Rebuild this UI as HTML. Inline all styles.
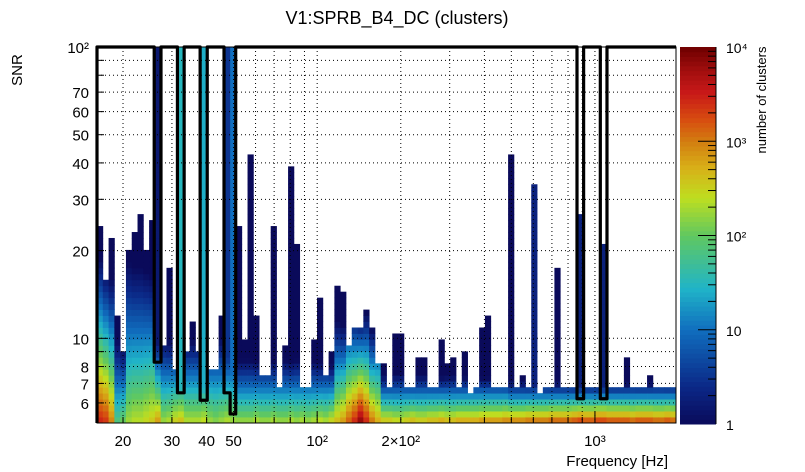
<!DOCTYPE html>
<html><head><meta charset="utf-8"><style>
html,body{margin:0;padding:0;background:#fff;}
svg{display:block;font-family:"Liberation Sans",sans-serif;}
</style></head><body>
<svg id="chart" width="805" height="472" viewBox="0 0 805 472">
<text x="397" y="24" font-size="18" text-anchor="middle">V1:SPRB_B4_DC (clusters)</text>
<text transform="translate(22,70) rotate(-90)" font-size="15" text-anchor="middle">SNR</text>
<text x="668" y="466" font-size="15" text-anchor="end">Frequency [Hz]</text>
<text transform="translate(766,100) rotate(-90)" font-size="13" text-anchor="middle">number of clusters</text>
<g id="cells"></g>
<g id="grid"></g>
<g id="axes"></g>
<g id="veto"></g>
<g id="cbar"></g>
</svg>
<script>
// ---- data ----
const topSnr = [23.6,15.8,21.3,11.8,8.75,19.5,22.4,26,19.5,24.8,
100,9.1,16.7,7.5,100,8.75,11.2,8.75,100,7.5,
7.5,11.8,100,100,23.6,9.7,42.7,11.8,7.2,7.2,
23.6,6.8,9.2,38.8,20.3,6.5,6.5,9.7,13.7,7.2,
8.75,15.1,14.4,9.2,10.6,10.6,12.4,10.6,7.9,7.9,
6.8,10.2,10.2,6.8,6.8,8.3,8.3,6.5,6.5,9.7,
7.9,8.3,6.5,8.75,6.2,6.5,10.6,11.8,6.8,6.8,
6.5,42.7,6.5,7.2,6.5,33.4,6.2,6.8,6.8,16.7,
6.5,6.5,6.8,26,6.8,6.5,6.8,20.3,6.5,6.5,
6.8,8.3,6.8,6.8,6.8,7.2,6.8,6.8,6.8,6.5];
const baseLog = [3.5,3.4,3.0,1.9,2.1,2.3,2.4,2.4,2.5,2.6,
2.9,2.3,2.4,2.6,2.7,2.4,2.4,2.4,2.5,2.3,
2.2,2.3,2.4,2.3,2.3,2.3,2.3,2.4,2.3,2.3,
2.4,2.3,2.3,2.4,2.3,2.4,2.3,2.4,2.5,2.4,
2.6,2.7,2.9,3.2,3.5,3.9,3.5,3.1,2.8,2.7,
2.7,2.6,2.6,2.7,2.8,2.7,2.7,2.8,2.8,2.9,
2.8,2.8,2.9,2.9,2.9,2.9,3.0,3.0,3.0,3.0,
3.1,3.1,3.1,3.1,3.2,3.2,3.2,3.2,3.3,3.3,
3.3,3.3,3.4,3.5,3.4,3.4,3.5,3.5,3.4,3.4,
3.4,3.4,3.3,3.4,3.4,3.4,3.3,3.3,3.4,3.3];
const decaySnr = [13,12,11,7,7,10.5,10.5,10.5,10.5,10.5,
8,7.5,7.5,7.5,7.5,7.5,7.5,7.5,7.5,7.5,
7.5,7.5,7.5,7.5,6.8,6.8,6.8,6.8,6.8,6.8,
6.8,6.8,6.8,6.8,6.8,6.8,6.8,6.8,6.8,6.8,
6.8,8.5,8.5,9.5,9.5,9.5,9.5,8.5,8.5,6.5,
6.5,6.5,6.5,6.5,6.5,6.5,6.5,6.5,6.5,6.5,
6.5,6.5,6.5,6.5,6.5,6.5,6.5,6.5,6.5,6.5,
6.5,6.4,6.4,6.4,6.4,6.4,6.4,6.4,6.4,6.4,
6.4,6.4,6.4,6.4,6.4,6.4,6.4,6.4,6.4,6.4,
6.4,6.4,6.4,6.4,6.4,6.4,6.4,6.4,6.4,6.4];
const floorCols = [10,14,18,22,23,71,75,83,87];
const floorLog = [0.2,1.5,1.4,0.5,1.0,0.0,0.3,0.3,0.3];
const vetoFreqLo = [25.9,31.4,37.9,46.2,861.8,1045.6];
const vetoFreqHi = [27.4,33.2,40.2,50.9,910.4,1105];
const vetoSnr = [8.28,6.5,6.13,6.5,6.2,6.2];
const xMajorTicks = [20,30,40,50,100,200,1000];
const xTickLabels = ["20","30","40","50","10²","2×10²","10³"];
const yTicks = [6,7,8,10,20,30,40,50,60,70,100];
const yTickLabels = ["6","7","8","10","20","30","40","50","60","70","10²"];

// ---- scales ----
const X0=97,X1=676,Y0=47,Y1=423;
const FMIN=16.12,FMAX=1958,SMIN=5.12,SMAX=100;
const xs=f=>X0+(Math.log(f/FMIN)/Math.log(FMAX/FMIN))*(X1-X0);
const ys=s=>Y1-(Math.log(s/SMIN)/Math.log(SMAX/SMIN))*(Y1-Y0);
const NS="http://www.w3.org/2000/svg";
function mk(tag,attrs,parent){const e=document.createElementNS(NS,tag);for(const k in attrs)e.setAttribute(k,attrs[k]);parent.appendChild(e);return e;}

const stops=[[0,[10,10,90]],[0.1,[11,40,135]],[0.25,[16,110,190]],[0.36,[32,180,200]],[0.5,[96,200,96]],[0.6,[190,222,32]],[0.68,[216,176,24]],[0.75,[210,125,16]],[0.81,[215,75,16]],[0.88,[200,24,24]],[0.94,[160,14,14]],[1,[110,0,0]]];
function cmap(t){t=Math.max(0,Math.min(1,t));for(let i=1;i<stops.length;i++){if(t<=stops[i][0]){const a=stops[i-1],b=stops[i];const u=(t-a[0])/(b[0]-a[0]);const c=a[1].map((v,j)=>Math.round(v+(b[1][j]-v)*u));return `rgb(${c[0]},${c[1]},${c[2]})`;}}return 'rgb(110,0,0)';}

// ---- heatmap ----
const cells=document.getElementById('cells');
const NX=topSnr.length,NY=63;
for(let i=0;i<NX;i++){
  const f0=FMIN*Math.pow(FMAX/FMIN,i/NX),f1=FMIN*Math.pow(FMAX/FMIN,(i+1)/NX);
  const fi=floorCols.indexOf(i);const fl=fi>=0?floorLog[fi]:0;
  for(let k=0;k<NY;k++){
    const s0=SMIN*Math.pow(SMAX/SMIN,k/NY),s1=SMIN*Math.pow(SMAX/SMIN,(k+1)/NY);
    if(s0>=topSnr[i]*0.999)break;
    const sc=Math.sqrt(s0*s1);
    let lc=baseLog[i]-(baseLog[i]-1)*Math.log(sc/SMIN)/Math.log(decaySnr[i]/SMIN);
    lc=Math.max(fl,Math.min(4,lc));
    const r=mk('rect',{x:xs(f0).toFixed(2),y:ys(s1).toFixed(2),width:(xs(f1)-xs(f0)+0.4).toFixed(2),height:(ys(s0)-ys(s1)+0.4).toFixed(2),fill:cmap(lc/4)},cells);
    
    
  }
}

// ---- grid ----
const grid=document.getElementById('grid');
const gx=[20,30,40,50,60,70,80,90,100,200,300,400,500,600,700,800,900,1000];
gx.forEach(f=>{const l=mk('line',{x1:xs(f),x2:xs(f),y1:Y0,y2:Y1,stroke:'#000','stroke-width':1,'stroke-dasharray':'1,3'},grid);});
const gy=[6,7,8,9,10,20,30,40,50,60,70,80,90];
gy.forEach(s=>{const l=mk('line',{x1:X0,x2:X1,y1:ys(s),y2:ys(s),stroke:'#000','stroke-width':1,'stroke-dasharray':'1,3'},grid);});

// ---- axes ----
const ax=document.getElementById('axes');
const fr=mk('rect',{x:X0,y:Y0,width:X1-X0,height:Y1-Y0,fill:'none',stroke:'#000','stroke-width':1},ax);

const la=mk('line',{x1:X0,x2:X0,y1:Y0,y2:Y1,stroke:'#000','stroke-width':3},ax);

const xmin=[];for(let d=10;d<=1000;d*=10)for(let m=1;m<10;m++){const f=d*m;if(f>FMIN&&f<FMAX)xmin.push(f);}
xmin.forEach(f=>{const big=(f===100||f===1000);const l=mk('line',{x1:xs(f),x2:xs(f),y1:Y1,y2:Y1-(big?11:6),stroke:'#000','stroke-width':1},ax);});
xMajorTicks.forEach((f,i)=>{const t=mk('text',{x:xs(f),y:446,'font-size':15,'text-anchor':'middle'},ax);t.textContent=xTickLabels[i];});
const ymin=[6,7,8,9,10,20,30,40,50,60,70,80,90];
ymin.forEach(s=>{const big=(s===10);const l=mk('line',{x1:X0,x2:X0+(big?11:7),y1:ys(s),y2:ys(s),stroke:'#000','stroke-width':1},ax);});
yTicks.forEach((s,i)=>{const t=mk('text',{x:89,y:ys(s)+6,'font-size':15,'text-anchor':'end'},ax);t.textContent=yTickLabels[i];});

// ---- veto contour ----
const veto=document.getElementById('veto');
let d=`M${X0},${Y1} L${X0},${Y0}`;
vetoFreqLo.forEach((f,i)=>{
  const xa=xs(f),xb=xs(vetoFreqHi[i]),yb=ys(vetoSnr[i]);
  if(i===3){const xm=xs(48.6);d+=` L${xa},${Y0} L${xa},${ys(6.5)} L${xm},${ys(6.5)} L${xm},${ys(5.5)} L${xb},${ys(5.5)} L${xb},${Y0}`;}
  else d+=` L${xa},${Y0} L${xa},${yb} L${xb},${yb} L${xb},${Y0}`;
});
d+=` L${X1},${Y0}`;
const vp=mk('path',{d:d,fill:'none',stroke:'#000','stroke-width':3.2,'stroke-linejoin':'round'},veto);


// ---- colorbar ----
const cb=document.getElementById('cbar');
const CX0=680,CX1=716,CY0=47,CY1=424,NB=80;
for(let k=0;k<NB;k++){const y0=CY1-(k+1)*(CY1-CY0)/NB;const r=mk('rect',{x:CX0,y:y0.toFixed(2),width:CX1-CX0,height:((CY1-CY0)/NB+0.5).toFixed(2),fill:cmap((k+0.5)/NB)},cb);}
const cby=c=>CY1-Math.log10(c)/4*(CY1-CY0);
for(let dd=1;dd<=1000;dd*=10)for(let m=1;m<10;m++){const c=dd*m;if(c<=1)continue;const big=m===1;const l=mk('line',{x1:CX1,x2:CX1-(big?18:8),y1:cby(c),y2:cby(c),stroke:'#000','stroke-width':1},cb);}
const cbl=[[1,'1'],[10,'10'],[100,'10²'],[1000,'10³'],[10000,'10⁴']];
cbl.forEach(([c,s])=>{const t=mk('text',{x:726,y:cby(c)+6,'font-size':14},cb);t.textContent=s;});
const cl=mk('line',{x1:CX1,x2:CX1,y1:CY0,y2:CY1,stroke:'#000','stroke-width':1},cb);

</script>
</body></html>
